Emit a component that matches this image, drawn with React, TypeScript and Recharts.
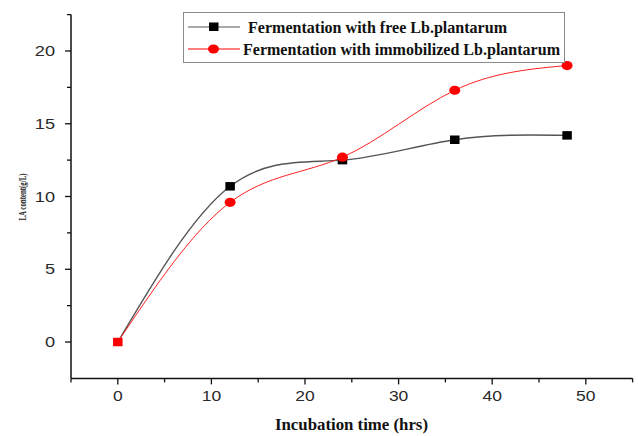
import React from "react";
import { LineChart, Line, XAxis, YAxis, Legend } from "recharts";

const hours = [0, 12, 24, 36, 48];
const freeLb = [0, 10.7, 12.5, 13.9, 14.2];
const immobilizedLb = [0, 9.6, 12.7, 17.3, 19.0];
const xTicks = [-5, 0, 5, 10, 15, 20, 25, 30, 35, 40, 45, 50, 55];
const yTicks = [0, 2.5, 5, 7.5, 10, 12.5, 15, 17.5, 20, 22.5];
const seriesNames = [
  "Fermentation with free Lb.plantarum",
  "Fermentation with immobilized Lb.plantarum",
];

const data = hours.map((h, i) => ({ h, free: freeLb[i], imm: immobilizedLb[i] }));

const SERIF = "'Liberation Serif', 'Times New Roman', serif";
const SANS = "'Liberation Sans', Arial, sans-serif";

const YTick = (props: any) => {
  const { x, y, payload } = props;
  const v = payload.value;
  const major = v % 5 === 0;
  return (
    <g>
      <line x1={x} x2={x - (major ? 6 : 4)} y1={y} y2={y} stroke="#111" strokeWidth={1.3} />
      {major && (
        <text
          transform={`translate(${x - 16},${y + 5}) scale(1.3,1)`}
          textAnchor="end"
          fontFamily={SANS}
          fontSize={14}
          fill="#2a2a2a"
        >
          {v}
        </text>
      )}
    </g>
  );
};

const XTick = (props: any) => {
  const { x, y, payload } = props;
  const v = payload.value;
  const major = v % 10 === 0;
  return (
    <g>
      <line x1={x} x2={x} y1={y} y2={y + (major ? 6 : 4)} stroke="#111" strokeWidth={1.3} />
      {major && (
        <text
          transform={`translate(${x},${y + 23}) scale(1.25,1)`}
          textAnchor="middle"
          fontFamily={SANS}
          fontSize={14}
          fill="#2a2a2a"
        >
          {v}
        </text>
      )}
    </g>
  );
};

const SquareDot = (props: any) => {
  const { cx, cy, index } = props;
  return (
    <rect
      key={`sq-${index}`}
      x={cx - 4.75}
      y={cy - 4.25}
      width={9.5}
      height={8.5}
      fill={index === 0 ? "#ff0000" : "#000"}
    />
  );
};

const CircleDot = (props: any) => {
  const { cx, cy, index } = props;
  if (index === 0) return <g key={`c-${index}`} />;
  return <ellipse key={`c-${index}`} cx={cx} cy={cy} rx={5.5} ry={4.6} fill="#ff0000" />;
};

const LegendBox = () => (
  <svg width={382} height={51} style={{ display: "block" }}>
    <rect x={0.5} y={0.5} width={381} height={50} fill="#fff" stroke="#8a8a8a" strokeWidth={1} />
    <line x1={5} x2={57} y1={15} y2={15} stroke="#555" strokeWidth={1} />
    <rect x={26} y={10.5} width={9.5} height={8.5} fill="#000" />
    <text x={65} y={20.5} fontFamily={SERIF} fontWeight="bold" fontSize={16} fill="#111" textLength={259} lengthAdjust="spacingAndGlyphs">
      {seriesNames[0]}
    </text>
    <line x1={5} x2={57} y1={37} y2={37} stroke="#ff0000" strokeWidth={1} />
    <ellipse cx={30.5} cy={37} rx={5.5} ry={4.6} fill="#ff0000" />
    <text x={60} y={42.5} fontFamily={SERIF} fontWeight="bold" fontSize={16} fill="#111" textLength={317} lengthAdjust="spacingAndGlyphs">
      {seriesNames[1]}
    </text>
  </svg>
);

export default function App() {
  return (
    <div style={{ position: "absolute", left: 0, top: 0, width: 638, height: 436, background: "#fff" }}>
      <LineChart
        width={638}
        height={436}
        data={data}
        margin={{ top: 14.6, right: 5.4, bottom: 0, left: 0 }}
      >
        <XAxis
          dataKey="h"
          type="number"
          domain={[-5, 55]}
          ticks={xTicks}
          interval={0}
          height={57.6}
          tickSize={0}
          tickMargin={0}
          tickLine={false}
          tick={<XTick />}
          axisLine={{ stroke: "#111", strokeWidth: 1.5 }}
          allowDataOverflow
        />
        <YAxis
          type="number"
          domain={[-2.5, 22.5]}
          ticks={yTicks}
          interval={0}
          width={71}
          tickSize={0}
          tickMargin={0}
          tickLine={false}
          tick={<YTick />}
          axisLine={{ stroke: "#111", strokeWidth: 1.5 }}
          allowDataOverflow
        />
        <Legend
          layout="horizontal"
          verticalAlign="middle"
          content={<LegendBox />}
          wrapperStyle={{ position: "absolute", left: 183, top: 12, width: 382, height: 51 }}
        />
        <Line
          type="natural"
          dataKey="free"
          name={seriesNames[0]}
          stroke="#555"
          strokeWidth={1.4}
          dot={SquareDot}
          activeDot={false}
          isAnimationActive={false}
        />
        <Line
          type="natural"
          dataKey="imm"
          name={seriesNames[1]}
          stroke="#ff2020"
          strokeWidth={1}
          dot={CircleDot}
          activeDot={false}
          isAnimationActive={false}
        />
        <text
          transform="translate(26,197) rotate(-90)"
          textAnchor="middle"
          fontFamily={SERIF}
          fontWeight="bold"
          fontSize={10}
          fill="#222"
          textLength={47}
          lengthAdjust="spacingAndGlyphs"
        >
          LA content(g/L)
        </text>
        <text
          x={351.5}
          y={429.5}
          textAnchor="middle"
          fontFamily={SERIF}
          fontWeight="bold"
          fontSize={16}
          fill="#111"
          textLength={153}
          lengthAdjust="spacingAndGlyphs"
        >
          Incubation time (hrs)
        </text>
      </LineChart>
    </div>
  );
}
